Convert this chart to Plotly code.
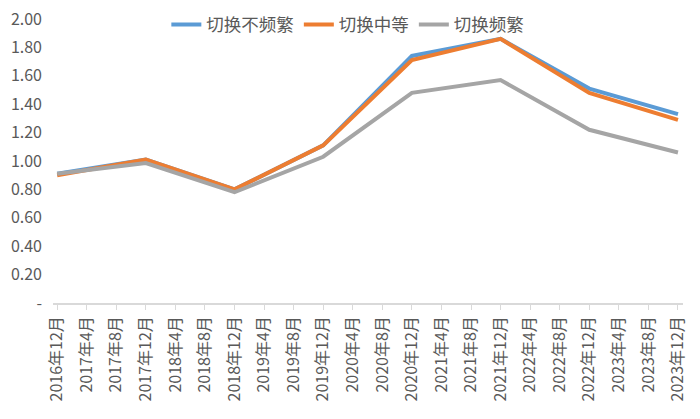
import plotly.graph_objects as go

categories = ["2016年12月", "2017年4月", "2017年8月", "2017年12月", "2018年4月", "2018年8月",
              "2018年12月", "2019年4月", "2019年8月", "2019年12月", "2020年4月", "2020年8月",
              "2020年12月", "2021年4月", "2021年8月", "2021年12月", "2022年4月", "2022年8月",
              "2022年12月", "2023年4月", "2023年8月", "2023年12月"]

# values observed only at December points (straight lines in between)
infrequent = [0.91, None, None, 1.01, None, None, 0.80, None, None, 1.11, None, None,
              1.74, None, None, 1.86, None, None, 1.51, None, None, 1.33]
medium = [0.90, None, None, 1.01, None, None, 0.80, None, None, 1.11, None, None,
          1.71, None, None, 1.86, None, None, 1.48, None, None, 1.29]
frequent = [0.91, None, None, 0.985, None, None, 0.78, None, None, 1.03, None, None,
            1.48, None, None, 1.57, None, None, 1.22, None, None, 1.06]

series_names = ["切换不频繁", "切换中等", "切换频繁"]
colors = ["#5B9BD5", "#ED7D31", "#A5A5A5"]

ytickvals = [0, 0.2, 0.4, 0.6, 0.8, 1.0, 1.2, 1.4, 1.6, 1.8, 2.0]
yticktext = ["-", "0.20", "0.40", "0.60", "0.80", "1.00", "1.20", "1.40", "1.60", "1.80", "2.00"]

font_family = "Noto Sans CJK SC"
text_color = "#595959"

fig = go.Figure()
for name, vals, col in zip(series_names, [infrequent, medium, frequent], colors):
    fig.add_trace(go.Scatter(x=categories, y=vals, name=name, mode="lines",
                             connectgaps=True,
                             line=dict(color=col, width=4)))

fig.update_layout(
    width=700, height=419,
    margin=dict(l=53, r=17, t=19, b=116, autoexpand=False),
    paper_bgcolor="white", plot_bgcolor="white",
    font=dict(family=font_family, color=text_color),
    showlegend=True,
    legend=dict(orientation="h", x=0.468, xanchor="center", y=0.98, yanchor="middle",
                font=dict(size=17.5, color=text_color), itemwidth=30,
                bgcolor="rgba(0,0,0,0)",
                traceorder="normal", tracegroupgap=0),
)
fig.update_xaxes(type="category", categoryorder="array", categoryarray=categories,
                 range=[-0.14, 21.17], tickangle=-90,
                 tickfont=dict(size=16, color=text_color, family=font_family),
                 showline=True, linecolor="#D9D9D9", linewidth=1.5,
                 ticks="outside", ticklen=5, tickcolor="#D9D9D9",
                 showgrid=False, zeroline=False)
fig.update_yaxes(range=[0, 2.0], tickvals=ytickvals, ticktext=yticktext,
                 tickfont=dict(size=16, color=text_color, family=font_family),
                 showgrid=False, zeroline=False, showline=False,
                 ticklabelstandoff=10)

fig.write_html("out.html")
